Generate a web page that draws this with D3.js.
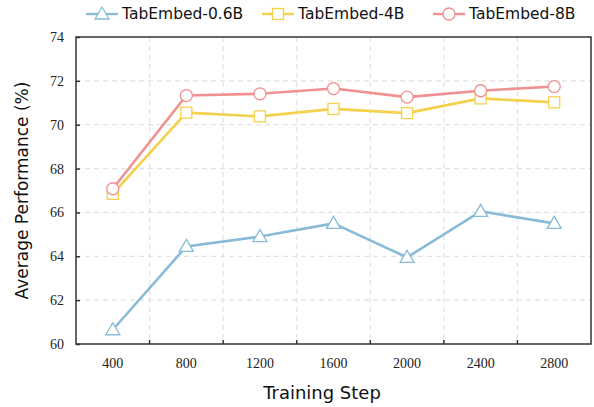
<!DOCTYPE html>
<html><head><meta charset="utf-8">
<script src="https://cdn.jsdelivr.net/npm/d3@7"></script>
<style>body{margin:0;background:#fff}svg{display:block}</style>
</head><body>
<svg id="c" width="594" height="407"></svg>
<script>
const steps = ["400","800","1200","1600","2000","2400","2800"];
const seriesNames = ["TabEmbed-0.6B","TabEmbed-4B","TabEmbed-8B"];
const vals06 = [60.65, 64.45, 64.9, 65.5, 63.95, 66.05, 65.5];
const vals4 = [66.85, 70.55, 70.38, 70.72, 70.53, 71.2, 71.02];
const vals8 = [67.08, 71.33, 71.41, 71.65, 71.26, 71.55, 71.74];
const yTicks = [60,62,64,66,68,70,72,74];

const svg = d3.select("#c");
const m = {l:76, r:591, t:37, b:344};
const x = d3.scaleBand().domain(steps).range([m.l, m.r]);
const y = d3.scaleLinear().domain([60,74]).range([m.b, m.t]);
const series = [
  {name: seriesNames[0], vals: vals06, color:"#88bbd8", mk:"tri"},
  {name: seriesNames[1], vals: vals4, color:"#f4d04c", mk:"sq"},
  {name: seriesNames[2], vals: vals8, color:"#f09090", mk:"circ"}
];
const serif = "'Liberation Serif','Times New Roman',serif";
const comic = "'DejaVu Sans',sans-serif";

// grid
const bounds = steps.slice(1).map(s => x(s));
svg.append("g").selectAll("line").data(bounds).join("line")
  .attr("x1", d=>d).attr("x2", d=>d).attr("y1", m.t).attr("y2", m.b)
  .attr("stroke","#e2e2e2").attr("stroke-width",1.2).attr("stroke-dasharray","5,4");
svg.append("g").selectAll("line").data(yTicks.slice(1,-1)).join("line")
  .attr("x1", m.l).attr("x2", m.r).attr("y1", d=>y(d)).attr("y2", d=>y(d))
  .attr("stroke","#e2e2e2").attr("stroke-width",1.2).attr("stroke-dasharray","5,4");

// axes with inward ticks
const yAxis = d3.axisLeft(y).tickValues(yTicks).tickSize(-4).tickPadding(12);
const gy = svg.append("g").attr("transform",`translate(${m.l},0)`).call(yAxis);
gy.select(".domain").remove();
gy.selectAll("line").attr("stroke","#333").attr("stroke-width",1.5);
gy.selectAll("text").attr("font-family",serif).attr("font-size",14).attr("fill","#222");

const xAxis = d3.axisBottom(x).tickSize(0).tickPadding(14);
const gx = svg.append("g").attr("transform",`translate(0,${m.b})`).call(xAxis);
gx.select(".domain").remove();
gx.selectAll("text").attr("font-family",serif).attr("font-size",14).attr("fill","#222");
svg.append("g").selectAll("line").data(bounds).join("line")
  .attr("x1", d=>d).attr("x2", d=>d).attr("y1", m.b).attr("y2", m.b-4)
  .attr("stroke","#333").attr("stroke-width",1.5);

// frame
svg.append("rect").attr("x",m.l).attr("y",m.t).attr("width",m.r-m.l).attr("height",m.b-m.t)
  .attr("fill","none").attr("stroke","#333").attr("stroke-width",1.5);

// lines
const line = d3.line().x((d,i)=>x(steps[i])+x.bandwidth()/2).y(d=>y(d));
function marker(g, type, cx, cy, color){
  if(type==="circ") g.append("circle").attr("cx",cx).attr("cy",cy).attr("r",6)
     .attr("fill","#fff").attr("stroke",color).attr("stroke-width",1.3);
  else if(type==="sq") g.append("rect").attr("x",cx-5.5).attr("y",cy-5.5).attr("width",11).attr("height",11)
     .attr("fill","#fff").attr("stroke",color).attr("stroke-width",1.3);
  else g.append("path").attr("d",`M${cx},${cy-7}L${cx+7},${cy+5}L${cx-7},${cy+5}Z`)
     .attr("fill","#fff").attr("stroke",color).attr("stroke-width",1.3);
}
series.forEach(s=>{
  svg.append("path").datum(s.vals).attr("d",line).attr("fill","none")
    .attr("stroke",s.color).attr("stroke-width",2.6);
  const g = svg.append("g");
  s.vals.forEach((v,i)=>marker(g, s.mk, x(steps[i])+x.bandwidth()/2, y(v), s.color));
});

// legend
const legX = [86, 262, 433];
series.forEach((s,i)=>{
  const g = svg.append("g");
  g.append("line").attr("x1",legX[i]).attr("x2",legX[i]+32).attr("y1",14).attr("y2",14)
    .attr("stroke",s.color).attr("stroke-width",2.4);
  marker(g, s.mk, legX[i]+16, 14, s.color);
  g.append("text").attr("x",legX[i]+36).attr("y",14).attr("dy","0.35em")
    .attr("font-family",comic).attr("font-size",15.5).attr("fill","#111").text(s.name);
});

// axis titles
svg.append("text").attr("x",322).attr("y",399).attr("text-anchor","middle")
  .attr("font-family",comic).attr("font-size",18).attr("fill","#111").text("Training Step");
svg.append("text").attr("transform",`translate(28,${(m.t+m.b)/2}) rotate(-90)`)
  .attr("text-anchor","middle").attr("font-family",comic).attr("font-size",17).attr("fill","#111")
  .text("Average Performance (%)");
</script>
</body></html>
